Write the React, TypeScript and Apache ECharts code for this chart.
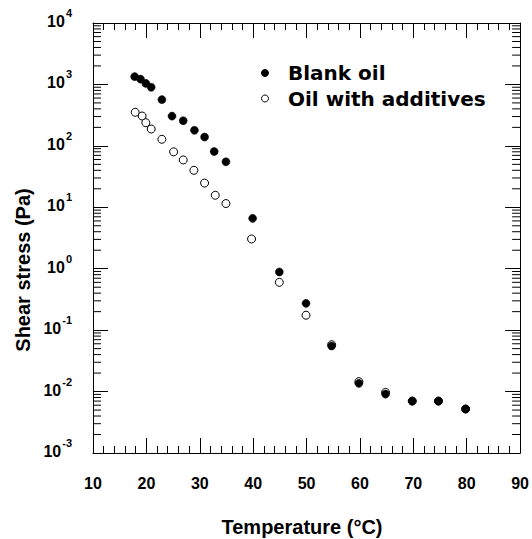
import React, { useEffect, useRef } from "react";
import * as echarts from "echarts";

// Blank oil
const blankTemp = [17.8, 18.9, 19.9, 20.9, 22.9, 24.8, 26.9, 29.0, 30.9, 32.7, 34.9, 39.9, 44.9, 49.9, 54.7, 59.8, 64.8, 69.8, 74.7, 79.8];
const blankStress = [1340, 1220, 1040, 900, 565, 305, 257, 179, 139, 81, 55, 6.6, 0.885, 0.273, 0.0552, 0.0136, 0.0091, 0.007, 0.007, 0.0052];

// Oil with additives
const addTemp = [17.9, 19.2, 19.9, 20.9, 22.9, 25.1, 26.9, 28.9, 30.9, 32.9, 34.9, 39.7, 44.9, 49.9, 54.7, 59.8, 64.8, 69.8, 74.7, 79.8];
const addStress = [352, 306, 238, 188, 128, 80, 59, 40, 24.8, 15.7, 11.5, 3.05, 0.6, 0.175, 0.058, 0.0145, 0.0097, 0.007, 0.007, 0.0052];

// Axis settings
const xMin = 10;
const xMax = 90;
const xInterval = 10;
const yMin = 0.001;
const yMax = 10000;
const decadeExponents = [-3, -2, -1, 0, 1, 2, 3];
const minorMultipliers = [2, 3, 4, 5, 6, 7, 8, 9];

const seriesNames = ["Blank oil", "Oil with additives"];

const LABEL_FONT = "'Liberation Sans', Arial, sans-serif";
const LEGEND_FONT = "'DejaVu Sans', Verdana, sans-serif";

export default function App() {
  const ref = useRef<HTMLDivElement>(null);

  useEffect(() => {
    document.body.style.margin = "0";
    if (!ref.current) return;
    const chart = echarts.init(ref.current, undefined, { renderer: "svg" });

    const minorTicks: number[][] = [];
    decadeExponents.forEach((e) => {
      minorMultipliers.forEach((m) => {
        minorTicks.push([xMin, m * Math.pow(10, e)]);
      });
    });

    const yLabelFormatter = (v: number) => {
      const exp = Math.round(Math.log10(v));
      return `{b|10}{s|${exp}}`;
    };

    const commonX = {
      type: "value" as const,
      min: xMin,
      max: xMax,
      interval: xInterval,
      splitLine: { show: false },
      axisLine: { show: true, lineStyle: { color: "#000", width: 1 } },
      axisTick: { show: true, inside: true, length: 15, lineStyle: { color: "#000", width: 1 } },
      minorTick: { show: true, splitNumber: 5, length: 7, lineStyle: { color: "#000", width: 1 } },
      minorSplitLine: { show: false },
    };

    const commonY = {
      type: "log" as const,
      logBase: 10,
      min: yMin,
      max: yMax,
      splitNumber: 7,
      splitLine: { show: false },
      axisLine: { show: true, lineStyle: { color: "#000", width: 1 } },
      axisTick: { show: true, inside: true, length: 15, lineStyle: { color: "#000", width: 1 } },
    };

    chart.setOption({
      animation: false,
      backgroundColor: "#fff",
      grid: { left: 93, top: 23, width: 430, height: 430, containLabel: false },
      xAxis: [
        {
          ...commonX,
          position: "bottom",
          axisLabel: {
            show: true,
            margin: 22,
            color: "#000",
            fontFamily: LABEL_FONT,
            fontWeight: "bold",
            fontSize: 16,
            lineHeight: 16,
          },
        },
        {
          ...commonX,
          position: "top",
          axisLabel: { show: false },
        },
      ],
      yAxis: [
        {
          ...commonY,
          position: "left",
          axisLabel: {
            show: true,
            margin: 21,
            color: "#000",
            padding: [0, 0, 9, 0],
            formatter: yLabelFormatter,
            rich: {
              b: {
                fontFamily: LABEL_FONT,
                fontWeight: "bold",
                fontSize: 16,
                lineHeight: 22,
                color: "#000",
                verticalAlign: "bottom",
              },
              s: {
                fontFamily: LABEL_FONT,
                fontWeight: "bold",
                fontSize: 11,
                lineHeight: 11,
                color: "#000",
                verticalAlign: "top",
                padding: [0, 0, 0, 1],
              },
            },
          },
        },
        {
          ...commonY,
          position: "right",
          axisLabel: { show: false },
        },
      ],
      legend: {
        orient: "vertical",
        left: 256,
        top: 58,
        itemWidth: 36,
        itemHeight: 7,
        itemGap: 5.5,
        selectedMode: false,
        textStyle: {
          fontFamily: LEGEND_FONT,
          fontWeight: "bold",
          fontSize: 20,
          lineHeight: 20,
          color: "#000",
        },
        data: [
          { name: seriesNames[0], icon: "circle", itemStyle: { color: "#000", borderColor: "#000", borderWidth: 1 } },
          { name: seriesNames[1], icon: "circle", itemStyle: { color: "#fff", borderColor: "#000", borderWidth: 1 } },
        ],
      },
      graphic: [
        {
          type: "text",
          x: 302,
          y: 527,
          style: {
            text: "Temperature (°C)",
            font: `bold 20px ${LABEL_FONT}`,
            fill: "#000",
            align: "center",
            verticalAlign: "middle",
          },
        },
        {
          type: "text",
          x: 23,
          y: 270,
          rotation: Math.PI / 2,
          style: {
            text: "Shear stress (Pa)",
            font: `bold 20px ${LABEL_FONT}`,
            fill: "#000",
            align: "center",
            verticalAlign: "middle",
          },
        },
      ],
      series: [
        {
          name: seriesNames[1],
          type: "scatter",
          xAxisIndex: 0,
          yAxisIndex: 0,
          symbol: "circle",
          symbolSize: 8,
          z: 3,
          itemStyle: { color: "#fff", borderColor: "#000", borderWidth: 1, opacity: 1 },
          data: addTemp.map((t, i) => [t, addStress[i]]),
        },
        {
          name: seriesNames[0],
          type: "scatter",
          xAxisIndex: 0,
          yAxisIndex: 0,
          symbol: "circle",
          symbolSize: 8,
          z: 4,
          itemStyle: { color: "#000", borderColor: "#000", borderWidth: 0.5, opacity: 1 },
          data: blankTemp.map((t, i) => [t, blankStress[i]]),
        },
        {
          name: "minorTicks",
          type: "custom",
          xAxisIndex: 0,
          yAxisIndex: 0,
          silent: true,
          clip: false,
          z: 5,
          renderItem: (_params: any, api: any) => {
            const v = api.value(1);
            const pL = api.coord([xMin, v]);
            const pR = api.coord([xMax, v]);
            const len = 8;
            return {
              type: "group",
              children: [
                {
                  type: "line",
                  shape: { x1: pL[0], y1: pL[1], x2: pL[0] + len, y2: pL[1] },
                  style: { stroke: "#000", lineWidth: 1 },
                },
                {
                  type: "line",
                  shape: { x1: pR[0] - len, y1: pR[1], x2: pR[0], y2: pR[1] },
                  style: { stroke: "#000", lineWidth: 1 },
                },
              ],
            };
          },
          data: minorTicks,
        },
      ],
    });

    return () => {
      chart.dispose();
    };
  }, []);

  return <div ref={ref} style={{ width: 532, height: 539 }} />;
}
